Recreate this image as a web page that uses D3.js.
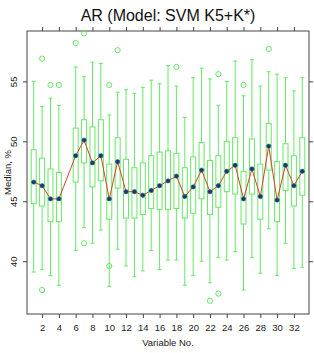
<!DOCTYPE html>
<html>
<head>
<meta charset="utf-8">
<script src="https://cdn.jsdelivr.net/npm/d3@7"></script>
<style>
  body { margin: 0; background: #fff; }
  text { font-family: "Liberation Sans", Arial, sans-serif; }
</style>
</head>
<body>
<svg id="chart"></svg>
<script>
const width = 314;
const height = 353;

// variable 5 has no data
const vars = [1, 2, 3, 4, 6, 7, 8, 9, 10, 11, 12, 13, 14, 15, 16, 17, 18, 19, 20, 21, 22, 23, 24, 25, 26, 27, 28, 29, 30, 31, 32, 33];
const whiskerLo = [39.1, 39.3, 38.8, 38.0, 40.9, 42.8, 41.5, 42.6, 37.9, 41.0, 39.6, 38.7, 39.2, 40.9, 39.3, 40.1, 40.1, 38.0, 38.8, 40.0, 38.2, 40.3, 40.1, 40.8, 37.6, 40.3, 39.0, 42.7, 38.8, 41.5, 39.4, 39.5];
const q1 = [44.8, 44.6, 43.3, 43.3, 46.6, 48.2, 46.2, 46.7, 43.5, 46.1, 43.6, 43.6, 43.9, 44.4, 44.3, 44.3, 44.4, 43.6, 44.0, 45.2, 43.9, 44.5, 45.8, 45.6, 43.1, 45.6, 43.5, 47.6, 43.3, 45.9, 44.6, 45.5];
const medians = [46.6, 46.3, 45.2, 45.2, 48.8, 50.1, 48.2, 48.8, 45.2, 48.3, 45.8, 45.8, 45.5, 45.9, 46.3, 46.7, 47.1, 45.4, 46.2, 47.6, 45.8, 46.3, 47.5, 48.0, 45.2, 47.7, 45.4, 49.6, 45.1, 48.0, 46.3, 47.5];
const q3 = [49.3, 48.6, 47.7, 47.4, 51.1, 51.8, 51.2, 51.8, 48.1, 50.3, 48.5, 47.8, 48.2, 48.8, 49.1, 49.2, 49.0, 47.8, 48.7, 49.9, 48.4, 48.8, 50.0, 50.3, 47.5, 50.2, 48.1, 51.5, 48.3, 49.8, 48.8, 50.3];
const whiskerHi = [55.0, 52.9, 53.6, 53.0, 56.2, 55.4, 56.6, 56.5, 52.2, 54.1, 54.3, 54.0, 54.5, 55.1, 54.8, 56.3, 54.6, 52.0, 55.3, 56.1, 55.2, 53.0, 55.0, 56.7, 53.8, 56.8, 54.6, 55.8, 55.6, 55.3, 54.2, 55.3];
const outlierVar = [2, 2, 3, 4, 6, 7, 7, 10, 10, 11, 18, 22, 23, 23, 26, 29];
const outlierVal = [56.9, 37.6, 54.7, 54.7, 58.2, 59.0, 41.5, 54.7, 39.6, 57.6, 56.2, 36.7, 37.3, 55.6, 54.7, 57.7];
const xTicks = [2, 4, 6, 8, 10, 12, 14, 16, 18, 20, 22, 24, 26, 28, 30, 32];
const yTicks = [40, 45, 50, 55];

const padLeft = 27, padRight = 309, padTop = 31, padBottom = 314;
const boxGreen = "#66e866";

const svg = d3.select("#chart").attr("width", width).attr("height", height);

const xScale = d3.scaleLinear().domain([0.2, 33.8]).range([padLeft, padRight]);
const yScale = d3.scaleLinear().domain([35.6, 59.2]).range([padBottom, padTop]);

// title and axis titles
svg.append("text")
  .attr("x", 168).attr("y", 21)
  .attr("text-anchor", "middle")
  .attr("font-size", 16)
  .attr("fill", "#111")
  .text("AR (Model: SVM K5+K*)");

svg.append("text")
  .attr("x", 168).attr("y", 346)
  .attr("text-anchor", "middle")
  .attr("font-size", 9.5)
  .attr("fill", "#222")
  .text("Variable No.");

svg.append("text")
  .attr("transform", "translate(11," + (padTop + padBottom) / 2 + ") rotate(-90)")
  .attr("text-anchor", "middle")
  .attr("font-size", 9.5)
  .attr("fill", "#222")
  .text("Median, %");

// axes: labels on bottom and left, bare ticks on top and right
const xAxisB = d3.axisBottom(xScale).tickValues(xTicks).tickSize(4).tickPadding(6).tickSizeOuter(0);
const xAxisT = d3.axisTop(xScale).tickValues(xTicks).tickSize(4).tickFormat("").tickSizeOuter(0);
const yAxisL = d3.axisLeft(yScale).tickValues(yTicks).tickSize(4).tickPadding(3).tickSizeOuter(0);
const yAxisR = d3.axisRight(yScale).tickValues(yTicks).tickSize(4).tickFormat("").tickSizeOuter(0);

const gB = svg.append("g").attr("transform", "translate(0," + padBottom + ")").call(xAxisB);
svg.append("g").attr("transform", "translate(0," + padTop + ")").call(xAxisT);
const gL = svg.append("g").attr("transform", "translate(" + padLeft + ",0)").call(yAxisL);
svg.append("g").attr("transform", "translate(" + padRight + ",0)").call(yAxisR);

svg.selectAll(".domain").remove();
svg.selectAll(".tick line").attr("stroke", "#444");
gB.selectAll("text").attr("font-size", 9.5).attr("fill", "#222").attr("font-family", "Liberation Sans, Arial, sans-serif");
gL.selectAll(".tick text")
  .attr("font-size", 9.5).attr("fill", "#222").attr("font-family", "Liberation Sans, Arial, sans-serif")
  .attr("text-anchor", "middle")
  .attr("x", null).attr("dy", null)
  .attr("transform", "translate(-10,0) rotate(-90)");

svg.append("rect")
  .attr("x", padLeft).attr("y", padTop)
  .attr("width", padRight - padLeft).attr("height", padBottom - padTop)
  .attr("fill", "none").attr("stroke", "#444").attr("stroke-width", 1);

// box plots
const rows = vars.map((v, i) => ({ v, lo: whiskerLo[i], q1: q1[i], med: medians[i], q3: q3[i], hi: whiskerHi[i] }));
const boxW = 5, capW = 4;
const plot = svg.append("g");

plot.selectAll(".whisker").data(rows).enter().append("path")
  .attr("fill", "none").attr("stroke", boxGreen).attr("stroke-width", 1)
  .attr("d", (d) => {
    const x = xScale(d.v);
    return "M" + x + "," + yScale(d.hi) + "V" + yScale(d.q3) +
      "M" + x + "," + yScale(d.q1) + "V" + yScale(d.lo) +
      "M" + (x - capW / 2) + "," + yScale(d.hi) + "h" + capW +
      "M" + (x - capW / 2) + "," + yScale(d.lo) + "h" + capW;
  });

plot.selectAll(".box").data(rows).enter().append("rect")
  .attr("x", (d) => xScale(d.v) - boxW / 2)
  .attr("y", (d) => yScale(d.q3))
  .attr("width", boxW)
  .attr("height", (d) => yScale(d.q1) - yScale(d.q3))
  .attr("fill", "none").attr("stroke", boxGreen).attr("stroke-width", 1);

plot.selectAll(".medline").data(rows).enter().append("line")
  .attr("x1", (d) => xScale(d.v) - boxW / 2).attr("x2", (d) => xScale(d.v) + boxW / 2)
  .attr("y1", (d) => yScale(d.med)).attr("y2", (d) => yScale(d.med))
  .attr("stroke", boxGreen).attr("stroke-width", 1);

plot.selectAll(".outlier").data(outlierVar.map((v, i) => ({ v, val: outlierVal[i] }))).enter().append("circle")
  .attr("cx", (d) => xScale(d.v)).attr("cy", (d) => yScale(d.val))
  .attr("r", 2.6)
  .attr("fill", "none").attr("stroke", boxGreen).attr("stroke-width", 1);

// median line and dots
const line = d3.line().x((d) => xScale(d.v)).y((d) => yScale(d.med));
plot.append("path").datum(rows)
  .attr("d", line).attr("fill", "none").attr("stroke", "#d2452a").attr("stroke-width", 1);

plot.selectAll(".dot").data(rows).enter().append("circle")
  .attr("cx", (d) => xScale(d.v)).attr("cy", (d) => yScale(d.med))
  .attr("r", 2.2)
  .attr("fill", "#1d2f86").attr("stroke", "#2f7a5a").attr("stroke-width", 0.6);
</script>
</body>
</html>
